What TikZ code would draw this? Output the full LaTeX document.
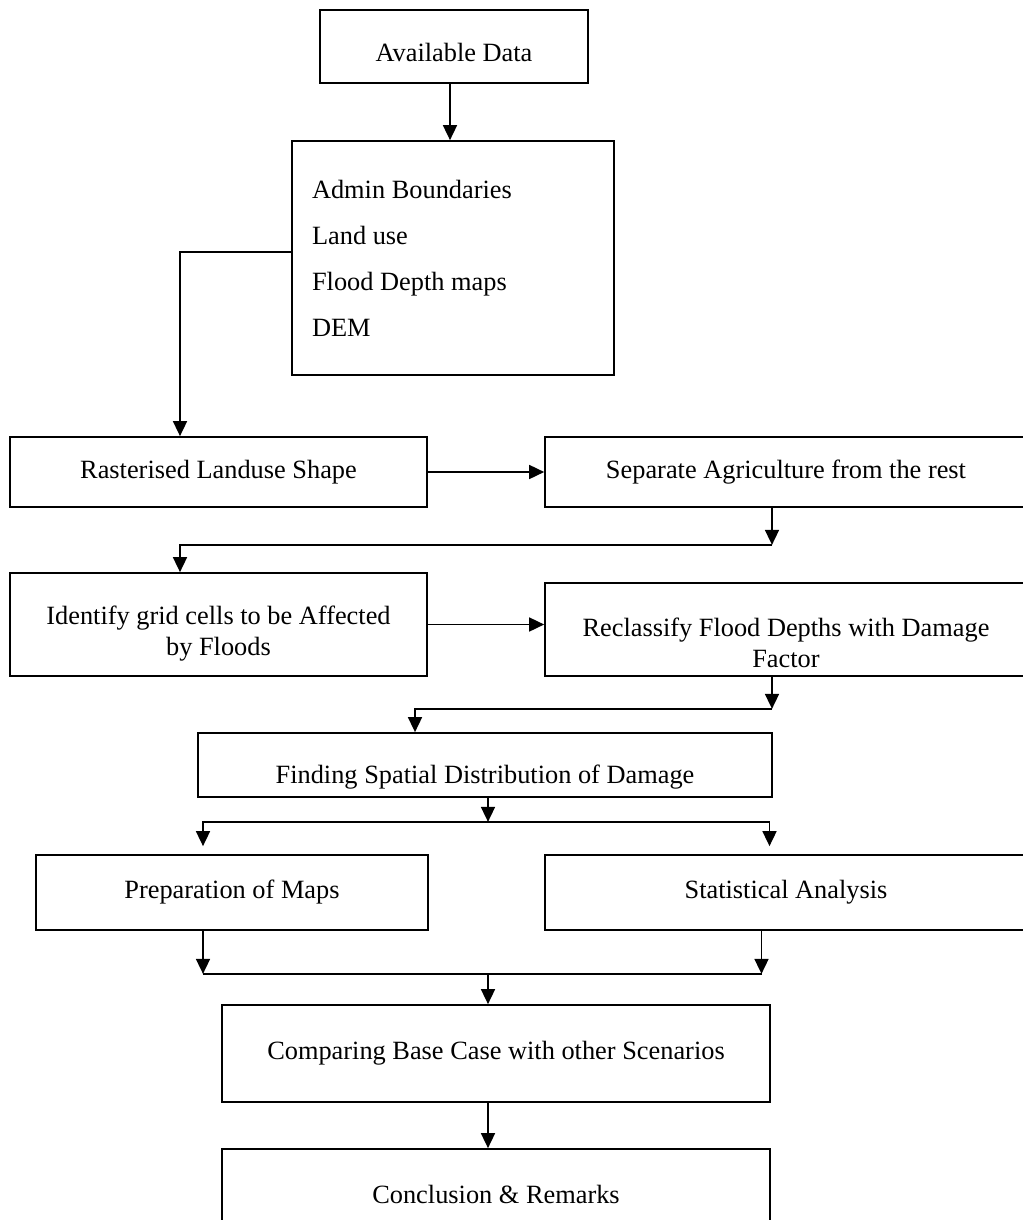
\documentclass[tikz,border=0pt]{standalone}
\usepackage{fontspec}
\setmainfont{Liberation Serif}
\usetikzlibrary{arrows.meta,calc}

\begin{document}
\begin{tikzpicture}[
    x=0.02cm, y=-0.02cm,
    font=\fontsize{15}{17.5}\selectfont,
    box/.style={
        draw,
        align=center,
        inner sep=2pt,
        line width=1pt
    },
    wide/.style={
        box,
        minimum width=9.64cm
    },
    arrow/.style={-{Triangle[length=3mm,width=2.8mm]}, line width=0.95pt},
    link/.style={line width=0.95pt}
]
\useasboundingbox (0,0) rectangle (1023,1220);
\clip (0,0) rectangle (1023,1220);

\node[box, minimum width=5.36cm, minimum height=1.46cm, text height=0.6cm] (avail) at (454,46.5) {Available Data};
\node[box, align=flush left, text width=5.64cm, inner xsep=0.4cm, minimum height=4.68cm,
      font=\fontsize{15}{26.2}\selectfont] (input) at (453,258)
     {Admin Boundaries\\Land use\\Flood Depth maps\\DEM};
\node[box, minimum width=8.34cm, minimum height=1.4cm] (rast) at (218.5,472) {Rasterised Landuse Shape};
\node[wide, minimum height=1.4cm] (sep) at (786,472) {Separate Agriculture from the rest};
\node[box, minimum width=8.34cm, minimum height=2.06cm, text height=1.36cm] (ident) at (218.5,624.5)
     {Identify grid cells to be Affected\\by Floods};
\node[wide, minimum height=1.86cm, text height=1.52cm] (recl) at (786,629.5)
     {Reclassify Flood Depths with Damage\\Factor};
\node[box, minimum width=11.48cm, minimum height=1.28cm, text height=0.72cm, text depth=0cm] (find) at (485,765)
     {Finding Spatial Distribution of Damage};
\node[box, minimum width=7.84cm, minimum height=1.5cm] (prep) at (232,892.5) {Preparation of Maps};
\node[wide, minimum height=1.5cm] (stat) at (786,892.5) {Statistical Analysis};
\node[box, minimum width=10.96cm, minimum height=1.94cm] (comp) at (496,1053.5) {Comparing Base Case with other Scenarios};
\node[box, minimum width=10.96cm, minimum height=1.8cm] (conc) at (496,1194) {Conclusion \& Remarks};

% data to grid
\draw[arrow] ([xshift=-0.08cm]avail.south) -- ([xshift=-0.06cm]input.north);
\draw[arrow] ([yshift=0.12cm]input.west) -| ([xshift=-0.77cm]rast.north);
\draw[arrow] (rast) -- (sep);
\draw[arrow] ([xshift=-0.28cm]sep.south) -- ++(0,37) coordinate (j1);
\draw[arrow] (j1) -| ([xshift=-0.77cm]ident.north);
\draw[arrow] (ident.east) -- (ident.east -| recl.west);
\draw[arrow] ([xshift=-0.28cm]recl.south) -- ++(0,32) coordinate (j2);
\draw[arrow] (j2) -| ([xshift=-1.4cm]find.north);

% split and join
\draw[arrow] ([xshift=0.06cm]find.south) -- ++(0,24) coordinate (j3);
\draw[arrow, shorten >=0.16cm] (j3) -| ([xshift=-0.58cm]prep.north);
\draw[arrow, shorten >=0.16cm] (j3) -| ([xshift=-0.33cm]stat.north);
\draw[arrow] ([xshift=-0.58cm]prep.south) -- ++(0,43) coordinate (j4);
\draw[arrow] ([xshift=-0.49cm]stat.south) -- ++(0,43) coordinate (j5);
\draw[link] (j4) -- (j5);
\draw[arrow] ([xshift=-0.16cm]comp.north |- j4) -- ([xshift=-0.16cm]comp.north);
\draw[arrow] ([xshift=-0.16cm]comp.south) -- ([xshift=-0.16cm]conc.north);
\end{tikzpicture}
\end{document}
